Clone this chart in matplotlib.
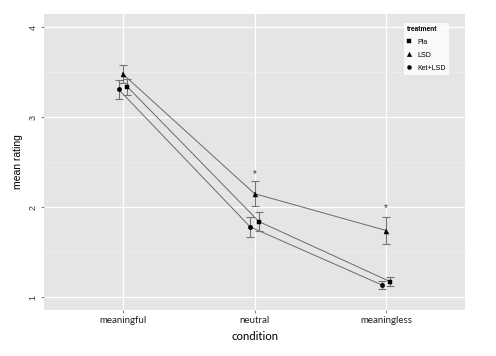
import matplotlib
matplotlib.use("Agg")
import matplotlib.pyplot as plt
import numpy as np

conditions = ["meaningful", "neutral", "meaningless"]
treatments = ["Pla", "LSD", "Ket+LSD"]

pla_mean = [3.34, 1.84, 1.17]
pla_err = [0.09, 0.11, 0.05]
lsd_mean = [3.48, 2.15, 1.74]
lsd_err = [0.10, 0.14, 0.155]
ket_mean = [3.31, 1.78, 1.135]
ket_err = [0.11, 0.115, 0.04]

star_cond = [1, 2]
star_y = [2.37, 1.99]

markers = {"Pla": "s", "LSD": "^", "Ket+LSD": "o"}
dodge = {"Pla": 0.033, "LSD": 0.0, "Ket+LSD": -0.033}
series = {"Pla": (pla_mean, pla_err), "LSD": (lsd_mean, lsd_err),
          "Ket+LSD": (ket_mean, ket_err)}

fig = plt.figure(figsize=(4.96, 3.56), dpi=100)
ax = fig.add_axes([0.0887, 0.129, 0.849, 0.832])
ax.set_facecolor("#e5e5e5")

x = np.arange(len(conditions))
handles = []
for t in treatments:
    m, e = series[t]
    xs = x + dodge[t]
    ax.plot(xs, m, color="#6a6a6a", lw=0.7, zorder=2)
    ax.errorbar(xs, m, yerr=e, fmt="none", ecolor="#747474", elinewidth=0.8,
                capsize=3.2, capthick=0.8, zorder=3)
    h, = ax.plot(xs, m, markers[t], color="black", ms=3.2 if t != "LSD" else 3.6,
                 mec="black", mew=0.3, zorder=4, label=t)
    handles.append(h)

for c, y in zip(star_cond, star_y):
    ax.text(c, y, "*", ha="center", va="center", fontsize=7,
            color="#333333", family="Liberation Sans")

ax.set_xlim(-0.6, 2.6)
ax.set_ylim(0.855, 4.15)
ax.set_xticks(x)
ax.set_xticklabels(conditions, family="Lato", fontsize=7, color="#222222")
ax.set_yticks([1, 2, 3, 4])
ax.set_yticks([1.5, 2.5, 3.5], minor=True)
ax.set_yticklabels(["1", "2", "3", "4"], rotation=90, va="center",
                   family="Liberation Sans", fontsize=6.5, color="#333333")
ax.tick_params(axis="both", which="major", length=2.5, color="#888888", pad=2)
ax.tick_params(axis="y", which="minor", length=0)
ax.grid(True, which="major", color="white", lw=0.9)
ax.grid(True, which="minor", axis="y", color="#f0f0f0", lw=0.5)
ax.set_axisbelow(True)
for s in ax.spines.values():
    s.set_visible(False)

ax.set_xlabel("condition", family="Lato", fontsize=8.2, labelpad=4)
ax.set_ylabel("mean rating", family="Liberation Sans", fontsize=7.5, labelpad=4)

leg = ax.legend(handles=handles, title="treatment", loc="upper left",
                bbox_to_anchor=(0.855, 0.97), frameon=True, fancybox=False,
                prop={"family": "Liberation Sans", "size": 5},
                title_fontproperties={"family": "Liberation Sans", "size": 4.8,
                                      "weight": "bold"},
                handlelength=0.6, handletextpad=0.8, labelspacing=0.85,
                borderpad=0.45, borderaxespad=0, markerscale=0.9)
leg.get_frame().set_edgecolor("white")
leg.get_frame().set_linewidth(0)
leg._legend_box.align = "left"

fig.savefig("out.png", dpi=100)
